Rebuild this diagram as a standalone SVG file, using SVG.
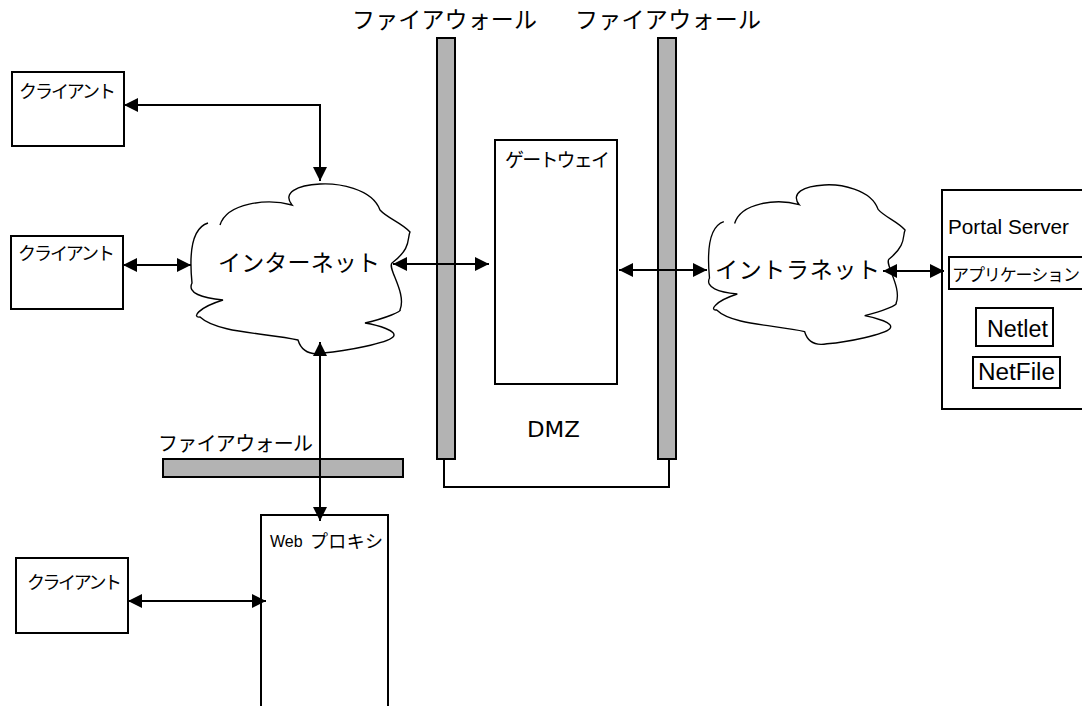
<svg xmlns="http://www.w3.org/2000/svg" width="1082" height="706" viewBox="0 0 1082 706">
<style>
.box{fill:#fff;stroke:#000;stroke-width:2}
.fw{fill:#b3b3b3;stroke:#000;stroke-width:2}
.cloud{fill:#fff;stroke:#000;stroke-width:1.4}
.jp{font-family:"Noto Sans CJK JP","Noto Sans",sans-serif;fill:#000}
.en{font-family:"Liberation Sans",Arial,sans-serif;fill:#000}
.ln{fill:none;stroke:#000;stroke-width:2}
.arr{fill:none;stroke:#000;stroke-width:2;marker-start:url(#ah);marker-end:url(#ah)}
</style>
<defs>
<marker id="ah" viewBox="0 0 14 14" refX="14" refY="7" markerWidth="14" markerHeight="14" orient="auto-start-reverse" markerUnits="userSpaceOnUse"><path d="M0,0 L14,7 L0,14 z" fill="#000"/></marker>
<path id="cloudshape" d="M21 40 C5 45 2 70 5 100 C0 110 15 115 36 117 C10 125 5 135 13 134 C30 150 80 150 111 157 C115 170 125 172 136 170 C160 168 200 160 206 154 C212 148 190 142 178 140 C200 135 215 128 213 127 C220 110 200 85 205 80 C225 65 220 55 223 49 C215 40 200 35 193 27 C185 5 150 0 133 1 C110 2 95 10 105 22 C80 15 40 20 33 42"/>
</defs>

<g id="firewall-label-1"><text class="jp" x="352" y="28" font-size="23" textLength="185" lengthAdjust="spacing">ファイアウォール</text></g>
<g id="firewall-label-2"><text class="jp" x="575" y="28" font-size="23" textLength="186" lengthAdjust="spacing">ファイアウォール</text></g>

<g id="firewall-1"><rect class="fw" x="437" y="38" width="18" height="421"/></g>
<g id="firewall-2"><rect class="fw" x="658" y="38" width="18" height="421"/></g>

<g id="client-1"><rect class="box" x="12" y="72" width="112" height="74"/><text class="jp" x="19" y="98" font-size="18" textLength="97" lengthAdjust="spacing">クライアント</text></g>
<g id="client-2"><rect class="box" x="11" y="236" width="112" height="73"/><text class="jp" x="18" y="260" font-size="18" textLength="97" lengthAdjust="spacing">クライアント</text></g>
<g id="client-3"><rect class="box" x="16" y="558" width="112" height="75"/><text class="jp" x="27" y="589" font-size="18" textLength="95" lengthAdjust="spacing">クライアント</text></g>

<g id="internet"><use href="#cloudshape" class="cloud" transform="translate(187,183)"/><text class="jp" x="218" y="271" font-size="23" textLength="162" lengthAdjust="spacing">インターネット</text></g>

<g id="gateway"><rect class="box" x="495" y="140" width="122" height="244"/><text class="jp" x="505" y="167" font-size="19" textLength="105" lengthAdjust="spacing">ゲートウェイ</text></g>

<g id="dmz"><text x="527" y="437" font-family="DejaVu Sans,Liberation Sans,sans-serif" font-size="22" textLength="53" lengthAdjust="spacingAndGlyphs">DMZ</text></g>

<g id="intranet"><use href="#cloudshape" class="cloud" transform="translate(705,184) scale(0.897,0.94)" vector-effect="non-scaling-stroke" style="stroke-width:1.5"/><text class="jp" x="715" y="278" font-size="23" textLength="165" lengthAdjust="spacing">イントラネット</text></g>

<g id="portal-server">
<rect class="box" x="942" y="190" width="150" height="219"/>
<text class="en" x="948" y="234" font-size="21" textLength="121" lengthAdjust="spacingAndGlyphs">Portal Server</text>
<rect class="box" x="949" y="257" width="143" height="32"/>
<text class="jp" x="952" y="281" font-size="17" textLength="128" lengthAdjust="spacing">アプリケーション</text>
<rect class="box" x="976" y="308" width="77" height="38"/>
<text class="en" x="987" y="337" font-size="23" textLength="61" lengthAdjust="spacingAndGlyphs">Netlet</text>
<rect class="box" x="973" y="357" width="87" height="31"/>
<text class="en" x="978" y="380" font-size="23" textLength="77" lengthAdjust="spacingAndGlyphs">NetFile</text>
</g>

<g id="firewall-3"><text class="jp" x="158" y="451" font-size="20" textLength="155" lengthAdjust="spacing">ファイアウォール</text><rect class="fw" x="163" y="459" width="240" height="18"/></g>

<g id="web-proxy"><rect class="box" x="261" y="515" width="127" height="200"/><text class="en" x="270" y="547" font-size="16">Web</text><text class="jp" x="310" y="548" font-size="18" textLength="73" lengthAdjust="spacing">プロキシ</text></g>

<g id="connectors">
<path class="arr" d="M124 105 H320 V181"/>
<path class="arr" d="M123 265 H191"/>
<path class="arr" d="M393 264 H489"/>
<path class="arr" d="M619 270 H707"/>
<path class="arr" d="M883 271 H944"/>
<path class="arr" d="M320 342 V521"/>
<path class="arr" d="M128 601 H266"/>
<path class="ln" d="M444 459 V487 H669 V459"/>
</g>
</svg>
